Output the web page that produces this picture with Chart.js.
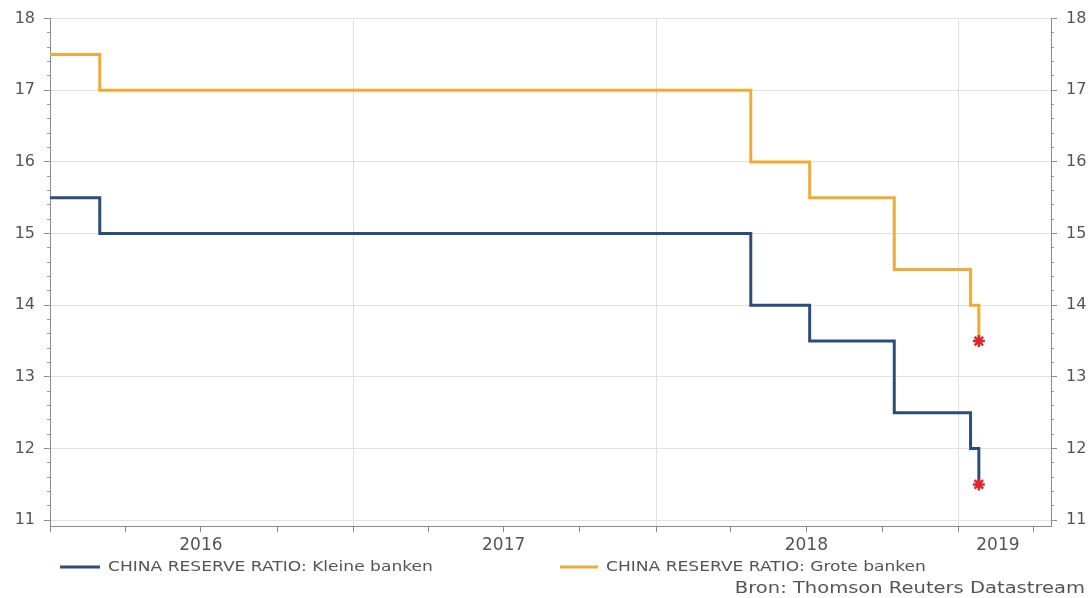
<!DOCTYPE html>
<html>
<head>
<meta charset="utf-8">
<script src="https://cdn.jsdelivr.net/npm/chart.js@4.4.1/dist/chart.umd.min.js"></script>
<style>
  html, body { margin: 0; padding: 0; background: #ffffff; }
  #wrap { width: 1092px; height: 598px; position: relative; }
</style>
</head>
<body>
<div id="wrap"><canvas id="c" width="1092" height="598"></canvas></div>
<script>
// ---- Data ----
const changeDates   = ['2016-01-01', '2016-03-01', '2018-04-25', '2018-07-05', '2018-10-15', '2019-01-15', '2019-01-25'];
const kleineBanken  = [15.5, 15, 14, 13.5, 12.5, 12, 11.5];
const groteBanken   = [17.5, 17, 16, 15.5, 14.5, 14, 13.5];
const seriesNames   = ['CHINA RESERVE RATIO: Kleine banken', 'CHINA RESERVE RATIO: Grote banken'];
const yearLabels    = ['2016', '2017', '2018', '2019'];
const yearLabelAt   = ['2016-07-01', '2017-07-01', '2018-07-01', '2019-02-17'];
const yearStarts    = ['2016-01-01', '2017-01-01', '2018-01-01', '2019-01-01'];
const quarterTicks  = ['2016-01-01','2016-04-01','2016-07-01','2016-10-01',
                       '2017-01-01','2017-04-01','2017-07-01','2017-10-01',
                       '2018-01-01','2018-04-01','2018-07-01','2018-10-01',
                       '2019-01-01','2019-04-01'];
const xRange        = ['2016-01-01', '2019-04-22'];
const yMajorTicks   = [11, 12, 13, 14, 15, 16, 17, 18];
const yAxisBottom   = 10.92;   // axis line sits a little below 11
const yAxisTop      = 18;
const sourceText = 'Bron: Thomson Reuters Datastream';

const t = s => Date.parse(s + 'T00:00:00Z');
const yearStartVals = yearStarts.map(t);

const FONT = "'DejaVu Sans', 'Liberation Sans', Arial, sans-serif";
const TEXT = '#555555';
const BLUE = '#2c4d78';
const ORANGE = '#f2aa34';
const STAR = '#e0262b';

const toPoints = vals => changeDates.map((d, i) => ({ x: t(d), y: vals[i] }));
const lastOnly = (r) => (ctx) => ctx.dataIndex === ctx.dataset.data.length - 1 ? r : 0;

const legendPlugin = {
  id: 'customLegend',
  afterDraw(chart) {
    const ctx = chart.ctx;
    const items = [
      { x1: 60, x2: 100, tx: 108 },
      { x1: 560, x2: 598, tx: 606 }
    ];
    const stretch = 1.22;
    ctx.save();
    chart.data.datasets.forEach((ds, i) => {
      const it = items[i];
      const y = 567;
      ctx.strokeStyle = ds.borderColor;
      ctx.lineWidth = 3;
      ctx.beginPath();
      ctx.moveTo(it.x1, y);
      ctx.lineTo(it.x2, y);
      ctx.stroke();
      ctx.save();
      ctx.translate(it.tx, y);
      ctx.scale(stretch, 1);
      ctx.fillStyle = TEXT;
      ctx.font = "14px " + FONT;
      ctx.textBaseline = 'middle';
      ctx.textAlign = 'left';
      ctx.fillText(ds.label, 0, 0);
      ctx.restore();
    });
    ctx.save();
    ctx.translate(1085, 589);
    ctx.scale(stretch, 1);
    ctx.font = "16px " + FONT;
    ctx.textAlign = 'right';
    ctx.textBaseline = 'middle';
    ctx.fillStyle = TEXT;
    ctx.fillText(sourceText, 0, 0);
    ctx.restore();
    ctx.restore();
  }
};

const minorValues = [];
for (let k = 0; k <= 35; k++) minorValues.push(Math.round((11 + k * 0.2) * 10) / 10);

const yMajor = (pos, width) => ({
  type: 'linear',
  position: pos,
  min: yAxisBottom, max: yAxisTop,
  weight: 1,
  afterBuildTicks(s) { s.ticks = yMajorTicks.map(v => ({ value: v })); },
  ticks: { color: TEXT, font: { family: FONT, size: 16 }, padding: 9, callback: v => String(v) },
  grid: { color: pos === 'left' ? '#e2e2e2' : 'rgba(0,0,0,0)', drawOnChartArea: pos === 'left',
          tickLength: 6, tickColor: '#8a8a8a', lineWidth: 1 },
  border: { display: true, color: '#8a8a8a', width: 1 },
  afterFit(s) { s.width = width; }
});
const yMinor = (pos) => ({
  type: 'linear',
  position: pos,
  min: yAxisBottom, max: yAxisTop,
  weight: 0,
  afterBuildTicks(s) { s.ticks = minorValues.map(v => ({ value: v })); },
  ticks: { display: false },
  grid: { drawOnChartArea: false, tickLength: 3, tickColor: '#9a9a9a', drawTicks: true },
  border: { display: false },
  afterFit(s) { s.width = 0; }
});

new Chart(document.getElementById('c'), {
  type: 'line',
  data: {
    datasets: [
      {
        label: seriesNames[0],
        data: toPoints(kleineBanken),
        borderColor: BLUE,
        backgroundColor: BLUE,
        borderWidth: 3,
        stepped: 'before',
        fill: false,
        pointStyle: 'star',
        pointRadius: lastOnly(6),
        pointHoverRadius: 0,
        pointBorderColor: STAR,
        pointBackgroundColor: STAR,
        pointBorderWidth: 2.5,
        yAxisID: 'y'
      },
      {
        label: seriesNames[1],
        data: toPoints(groteBanken),
        borderColor: ORANGE,
        backgroundColor: ORANGE,
        borderWidth: 3,
        stepped: 'before',
        fill: false,
        pointStyle: 'star',
        pointRadius: lastOnly(6),
        pointHoverRadius: 0,
        pointBorderColor: STAR,
        pointBackgroundColor: STAR,
        pointBorderWidth: 2.5,
        yAxisID: 'y'
      }
    ]
  },
  options: {
    responsive: false,
    animation: false,
    events: [],
    layout: { padding: { top: 18, left: 0, right: 0, bottom: 0 } },
    plugins: { legend: { display: false }, tooltip: { enabled: false } },
    scales: {
      x: {
        type: 'linear',
        position: 'bottom',
        min: t(xRange[0]), max: t(xRange[1]),
        weight: 0,
        afterBuildTicks(s) { s.ticks = quarterTicks.map(d => ({ value: t(d) })); },
        ticks: { display: false },
        grid: {
          color: (c) => (c.tick && yearStartVals.includes(c.tick.value)) ? '#e0e0e0' : 'rgba(0,0,0,0)',
          tickColor: '#8a8a8a', tickLength: 6, drawTicks: true, lineWidth: 1
        },
        border: { display: true, color: '#8a8a8a', width: 1 },
        afterFit(s) { s.height = 6; }
      },
      xLabels: {
        type: 'linear',
        position: 'bottom',
        min: t(xRange[0]), max: t(xRange[1]),
        weight: 1,
        afterBuildTicks(s) { s.ticks = yearLabelAt.map(d => ({ value: t(d) })); },
        ticks: {
          color: TEXT, font: { family: FONT, size: 17 }, padding: 3,
          maxRotation: 0, autoSkip: false,
          callback: (v, i) => yearLabels[i]
        },
        grid: { display: false, drawTicks: false },
        border: { display: false },
        afterFit(s) { s.height = 66; }
      },
      y: yMajor('left', 50),
      yMinorL: yMinor('left'),
      y2: yMajor('right', 41),
      yMinorR: yMinor('right')
    }
  },
  plugins: [legendPlugin]
});
</script>
</body>
</html>
